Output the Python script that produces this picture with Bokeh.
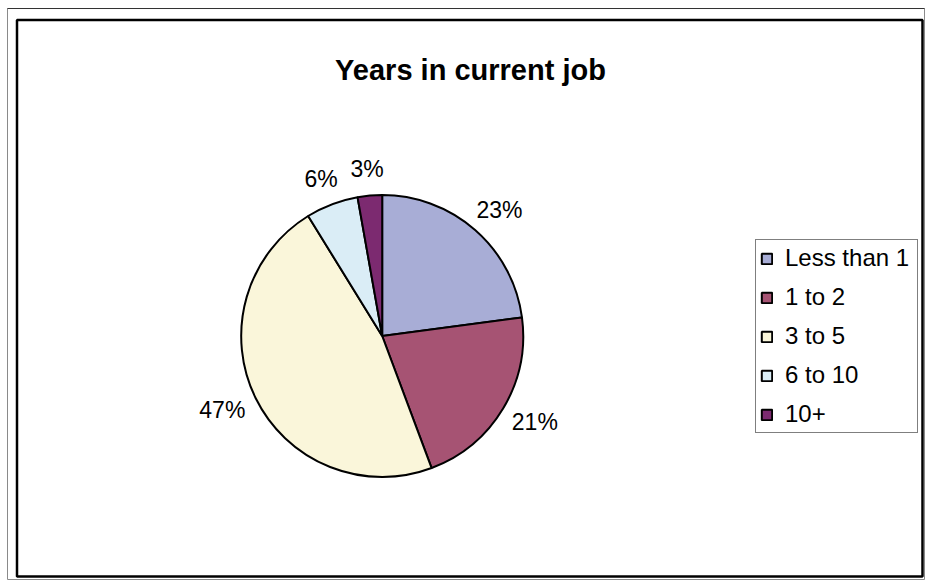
import math
from bokeh.plotting import figure
from bokeh.models import Range1d, ColumnDataSource, Legend, LegendItem
from bokeh.core.properties import value
from bokeh.embed import file_html
from bokeh.resources import INLINE

# ---- data ----
title_text = "Years in current job"
categories = ["Less than 1", "1 to 2", "3 to 5", "6 to 10", "10+"]
shares = [22.9, 21.4, 46.9, 6.0, 2.8]          # percent
pct_labels = ["23%", "21%", "47%", "6%", "3%"]
colors = ["#A8ADD6", "#A65373", "#FAF6DA", "#DAEDF6", "#7C2A70"]

# ---- layout (pixel-like coordinates, y up) ----
W, H = 925, 580
FONT = "Liberation Sans"
cx, cy, r = 381.7, H - 335.5, 141.0

p = figure(width=W, height=H, x_range=Range1d(0, W), y_range=Range1d(0, H),
           output_backend="svg", toolbar_location=None, min_border=0,
           x_axis_location=None, y_axis_location=None, outline_line_color=None)
p.xgrid.visible = False
p.ygrid.visible = False
p.background_fill_color = "white"
p.border_fill_color = "white"

# frames
p.quad(left=[7], right=[924], bottom=[H - 579], top=[H - 8],
       fill_color=None, line_color="#8a8a8a", line_width=1)
p.line(x=[7, 924], y=[H - 8, H - 8], line_color="#333333", line_width=1)
p.quad(left=[16.5], right=[922], bottom=[H - 576], top=[H - 19.5],
       fill_color=None, line_color="black", line_width=2.5)

# pie
total = sum(shares)
starts, ends, mids = [], [], []
cum = 0.0
for s in shares:
    a0 = math.pi / 2 - 2 * math.pi * cum / total
    cum += s
    a1 = math.pi / 2 - 2 * math.pi * cum / total
    starts.append(a0)
    ends.append(a1)
    mids.append(2 * math.pi * (cum - s / 2) / total)   # clockwise from top

src = ColumnDataSource(dict(cat=categories, start=starts, end=ends, color=colors,
                            x=[cx] * len(shares), y=[cy] * len(shares)))
wr = p.wedge(x="x", y="y", radius=r, start_angle="start", end_angle="end",
             direction="clock", fill_color="color", line_color="black",
             line_width=2, source=src)

# percentage labels outside the pie
cw = {"%": 0.889}
fs = 23
lx, ly = [], []
g, h = 14, 26
for lab, th in zip(pct_labels, mids):
    w = sum(cw.get(ch, 0.556) for ch in lab) * fs
    sx, cy_ = math.sin(th), math.cos(th)
    lx.append(cx + (r + g) * sx + w / 2 * sx)
    ly.append(cy + (r + g) * cy_ + h / 2 * cy_)
p.text(x=lx, y=ly, text=pct_labels, text_font=value(FONT), text_font_size=f"{fs}px",
       text_align="center", text_baseline="middle", text_color="black")

# title
p.text(x=[470], y=[H - 69], text=[title_text], text_font=value(FONT),
       text_font_style="bold", text_font_size="29px", text_align="center",
       text_baseline="alphabetic", text_color="black")

# legend
items = [LegendItem(label=c, renderers=[wr], index=i) for i, c in enumerate(categories)]
legend = Legend(items=items, location=(755, H - 433), orientation="vertical",
                label_text_font=FONT, label_text_font_size="24px",
                label_text_color="black",
                glyph_width=13, glyph_height=13, label_height=24, label_width=128,
                label_standoff=12,
                spacing=11, padding=4, margin=0,
                border_line_color="black", border_line_width=1,
                background_fill_color="white", background_fill_alpha=1.0)
legend.label_text_baseline = "middle"
p.add_layout(legend, "center")

open("out.html", "w").write(file_html(p, INLINE))
